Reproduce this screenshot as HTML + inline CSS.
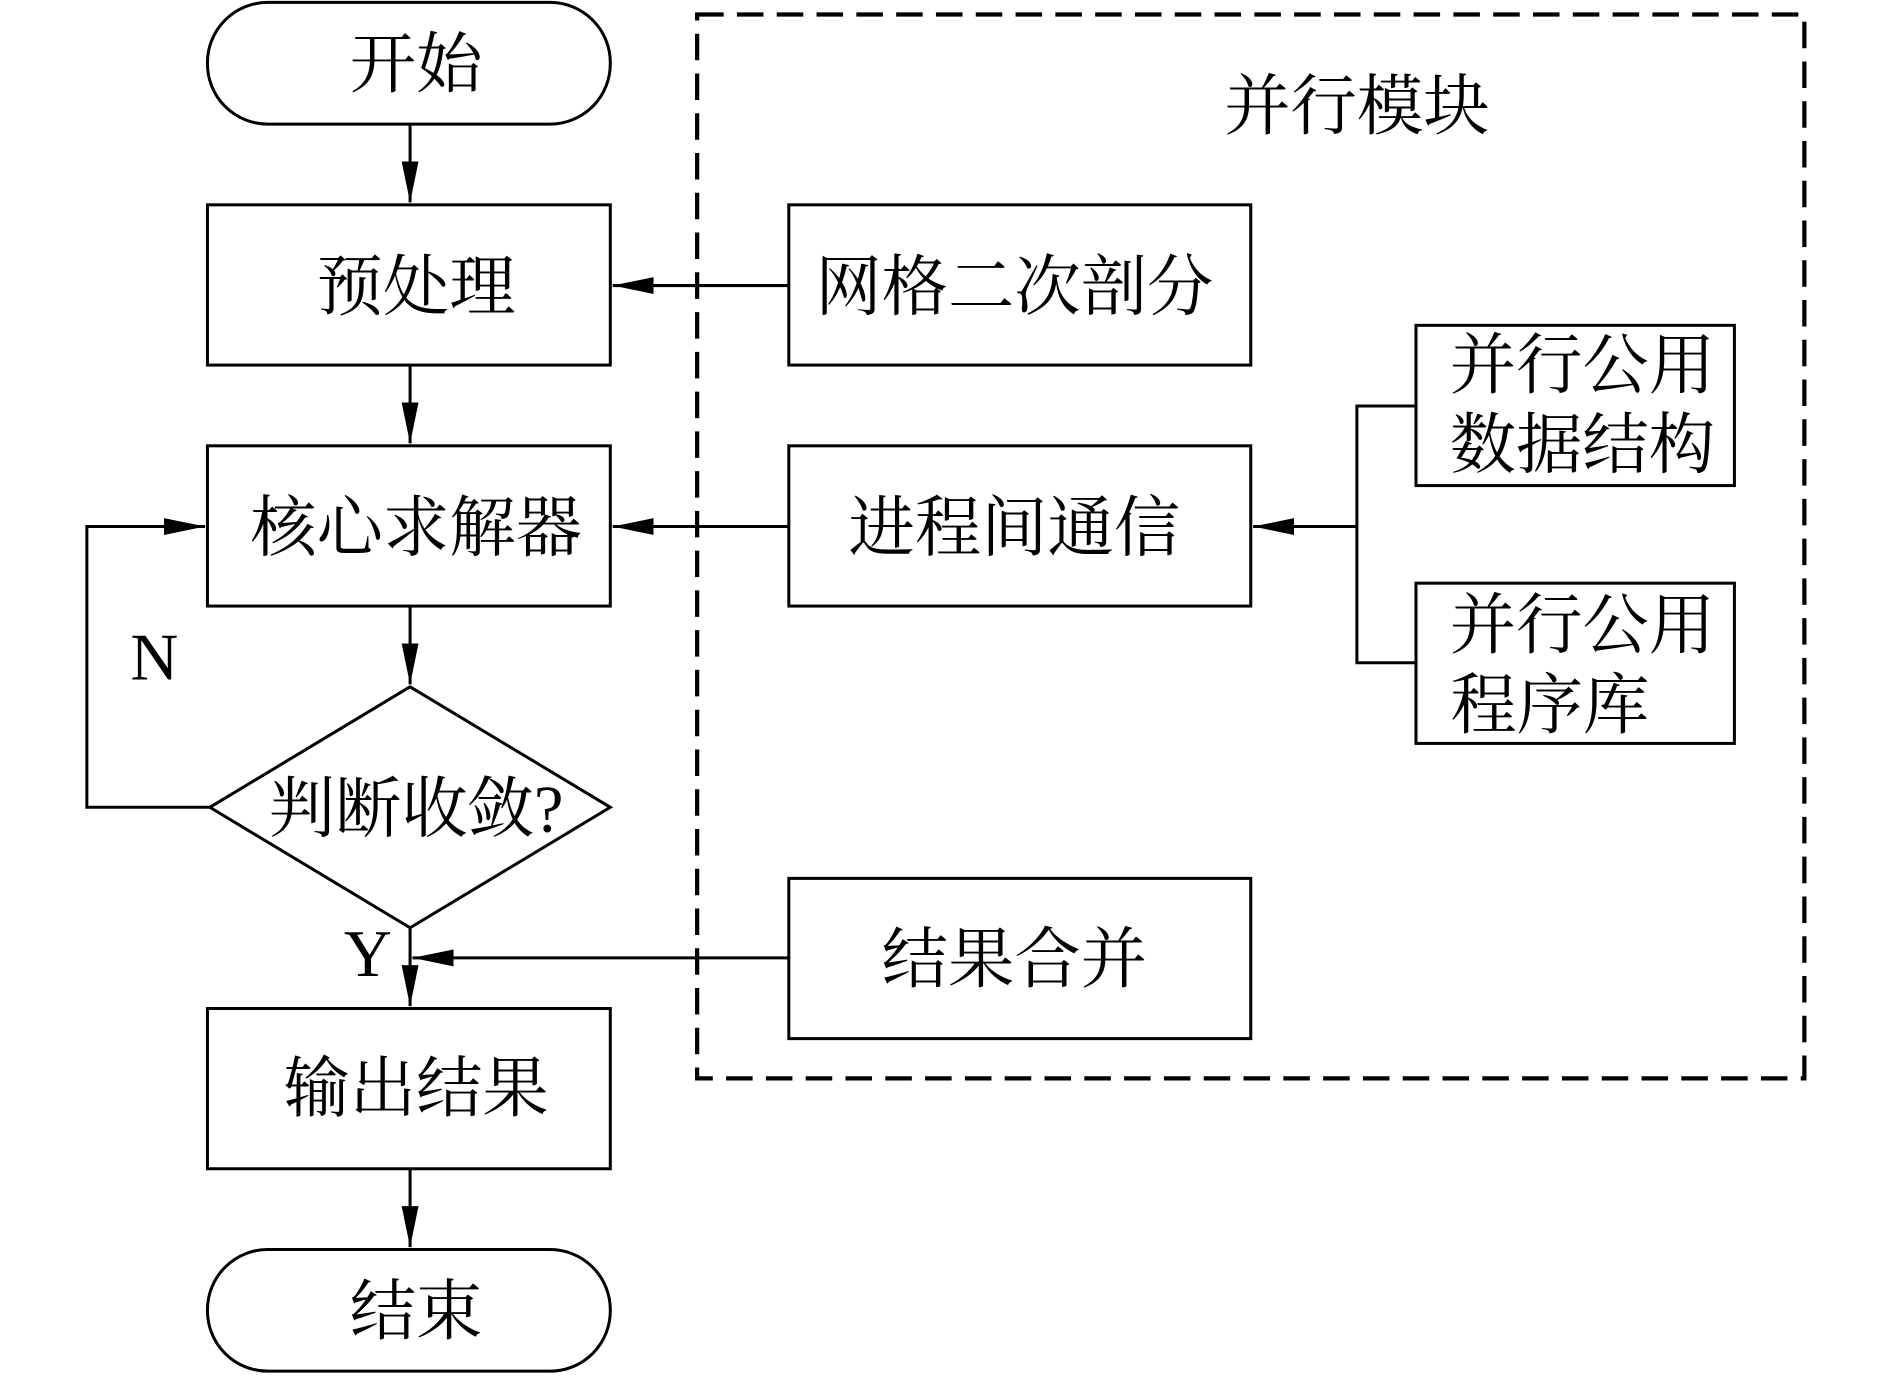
<!DOCTYPE html>
<html><head><meta charset="utf-8"><style>html,body{margin:0;padding:0;background:#fff}svg{display:block}</style></head>
<body>
<svg width="1890" height="1376" viewBox="0 0 1567 1142" preserveAspectRatio="none" xmlns="http://www.w3.org/2000/svg">
<defs><marker id="b" markerWidth="34" markerHeight="14" refX="34" refY="7" orient="auto" markerUnits="userSpaceOnUse"><path d="M0,0 L34,7 L0,14 z" fill="#000"/></marker></defs>
<g fill="none" stroke="#000" stroke-width="2.5">
<rect x="578" y="12" width="918" height="883" stroke-dasharray="22,11" stroke-width="3.5"/>
<rect x="172" y="2" width="334" height="101" rx="50"/>
<rect x="172" y="170" width="334" height="133"/>
<rect x="172" y="370" width="334" height="133"/>
<path d="M340,570 L506,670 L340,770 L174,670 Z"/>
<rect x="172" y="837" width="334" height="133"/>
<rect x="172" y="1037" width="334" height="101" rx="50"/>
<rect x="654" y="170" width="383" height="133"/>
<rect x="654" y="370" width="383" height="133"/>
<rect x="654" y="729" width="383" height="133"/>
<rect x="1174" y="270" width="264" height="133"/>
<rect x="1174" y="484" width="264" height="133"/>
<path d="M1174,337 H1125 V550 H1174"/>
<path d="M1125,437 H1039" marker-end="url(#b)"/>
<path d="M654,237 H508" marker-end="url(#b)"/>
<path d="M654,437 H508" marker-end="url(#b)"/>
<path d="M654,795 H342" marker-end="url(#b)"/>
<path d="M340,103 V168" marker-end="url(#b)"/>
<path d="M340,303 V368" marker-end="url(#b)"/>
<path d="M340,503 V568" marker-end="url(#b)"/>
<path d="M340,770 V835" marker-end="url(#b)"/>
<path d="M340,970 V1035" marker-end="url(#b)"/>
<path d="M174,670 H72 V437 H170" marker-end="url(#b)"/>
</g>
<g font-family="'Liberation Serif','Noto Serif CJK SC',serif" font-size="55" text-anchor="middle" fill="#000">
<text x="345" y="72">开始</text>
<text x="345" y="257">预处理</text>
<text x="345" y="457">核心求解器</text>
<text x="345" y="690">判断收敛?</text>
<text x="345" y="922">输出结果</text>
<text x="345" y="1107">结束</text>
<text x="1125" y="107">并行模块</text>
<text x="841" y="257">网格二次剖分</text>
<text x="841" y="457">进程间通信</text>
<text x="841" y="815">结果合并</text>
<text x="1312" y="322">并行公用</text>
<text x="1312" y="388">数据结构</text>
<text x="1312" y="538">并行公用</text>
<text x="1285" y="604">程序库</text>
<text x="128" y="564">N</text>
<text x="305" y="810">Y</text>
</g>
</svg>
</body></html>
